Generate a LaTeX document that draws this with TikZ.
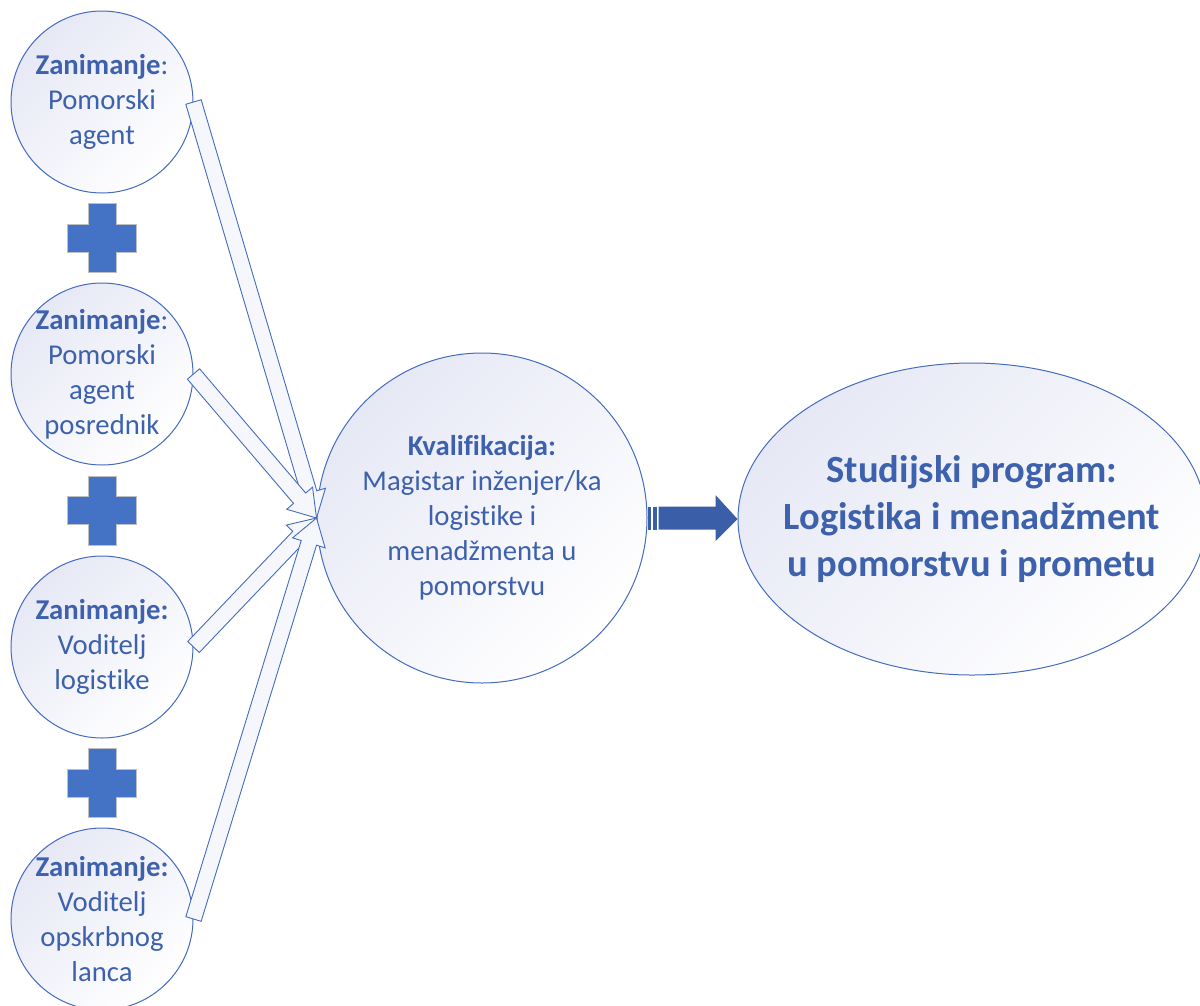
\documentclass[tikz,border=0pt]{standalone}
\usepackage{fontspec}
\setmainfont{Carlito}[Ligatures=NoCommon]
\usetikzlibrary{calc,shapes.geometric}
\definecolor{txt}{RGB}{61,97,172}
\definecolor{edge}{RGB}{68,108,190}
\definecolor{plusc}{RGB}{68,114,196}
\definecolor{lav}{RGB}{230,232,245}
\definecolor{darkarrow}{RGB}{58,94,168}
\definecolor{arrfill}{RGB}{246,247,252}
\newcommand\hollowarr[2]{%
  \coordinate (hT) at (#1);
  \coordinate (hP) at (#2);
  \coordinate (hH) at ($(hP)!26pt!(hT)$);
  \filldraw[harrow] ($(hT)!8pt!90:(hP)$) -- ($(hH)!8pt!90:(hP)$) -- ($(hH)!17pt!90:(hP)$) -- (hP)
    -- ($(hH)!17pt!-90:(hP)$) -- ($(hH)!8pt!-90:(hP)$) -- ($(hT)!8pt!-90:(hP)$) -- cycle;}
\begin{document}
\begin{tikzpicture}[x=1pt,y=-1pt,
  bub/.style={circle, draw=edge, line width=1pt, minimum size=182pt, inner sep=-45pt,
    align=center, text=txt, font=\fontsize{28.7}{35}\selectfont,
    top color=lav, bottom color=white, shading angle=45},
  harrow/.style={draw=edge, line width=0.9pt, fill=arrfill, line join=miter},
  plussign/.pic={\filldraw[fill=plusc, draw=black!25, line width=0.8pt]
    (-14,-34.5) -- (14,-34.5) -- (14,-14) -- (34.5,-14) -- (34.5,14) -- (14,14) -- (14,34.5)
    -- (-14,34.5) -- (-14,14) -- (-34.5,14) -- (-34.5,-14) -- (-14,-14) -- cycle;}
]
\useasboundingbox (0,0) rectangle (1200,1005);

\node[bub] (c1) at (102,102) {\textbf{Zanimanje}:\\Pomorski\\agent};
\node[bub] (c2) at (102,374) {\textbf{Zanimanje}:\\Pomorski\\agent\\posrednik};
\node[bub] (c3) at (102,647) {\textbf{Zanimanje:}\\Voditelj\\logistike};
\node[bub] (c4) at (102,919) {\textbf{Zanimanje:}\\Voditelj\\opskrbnog\\lanca};
\node[bub, minimum size=330pt] (k) at (482,518)
  {\textbf{Kvalifikacija:}\\Magistar inženjer/ka\\logistike i\\menadžmenta u\\pomorstvu};
\node[bub, ellipse, minimum width=468pt, minimum height=312pt,
  font=\bfseries\fontsize{38.5}{47}\selectfont] (sp) at (972,519)
  {Studijski program:\\Logistika i menadžment\\u pomorstvu i prometu};

\pic at ($(c1.south)!0.5!(c2.north)$) {plussign};
\pic at ($(c2.south)!0.5!(c3.north)$) {plussign};
\pic at ($(c3.south)!0.5!(c4.north)$) {plussign};

\hollowarr{c1.east}{k.west}
\hollowarr{c2.east}{k.west}
\hollowarr{c3.east}{k.west}
\hollowarr{c4.east}{k.west}

\fill[darkarrow] ($(k.east)+(0,-11.5)$) rectangle ($(k.east)+(3,11.5)$);
\fill[darkarrow] ($(k.east)+(5,-11.5)$) rectangle ($(k.east)+(9,11.5)$);
\fill[darkarrow] ($(k.east)+(11,-11.5)$) -- ($(k.east)+(68,-11.5)$) -- ($(k.east)+(68,-23)$)
  -- (sp.west) -- ($(k.east)+(68,23)$) -- ($(k.east)+(68,11.5)$) -- ($(k.east)+(11,11.5)$) -- cycle;
\end{tikzpicture}
\end{document}
